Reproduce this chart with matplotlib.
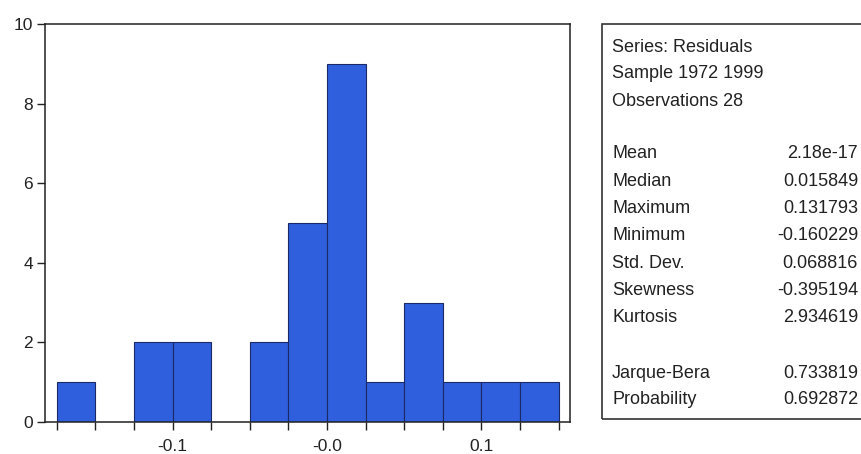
import matplotlib
matplotlib.use("Agg")
import matplotlib.pyplot as plt
from matplotlib.patches import Rectangle

plt.rcParams['font.family'] = ['Liberation Sans', 'DejaVu Sans']

# histogram of residuals, bin width 0.025
bin_left = [-0.175, -0.15, -0.125, -0.1, -0.075, -0.05, -0.025, 0.0, 0.025, 0.05, 0.075, 0.1, 0.125]
counts = [1, 0, 2, 2, 0, 2, 5, 9, 1, 3, 1, 1, 1]
bin_width = 0.025

tick_pos = [-0.175, -0.15, -0.125, -0.1, -0.075, -0.05, -0.025, 0.0, 0.025, 0.05, 0.075, 0.1, 0.125, 0.15]
tick_lab = ['', '', '', '-0.1', '', '', '', '-0.0', '', '', '', '0.1', '', '']
y_ticks = [0, 2, 4, 6, 8, 10]

head_lines = ['Series: Residuals', 'Sample 1972 1999', 'Observations 28']
stat_names = ['Mean', 'Median', 'Maximum', 'Minimum', 'Std. Dev.', 'Skewness', 'Kurtosis']
stat_vals = ['2.18e-17', '0.015849', '0.131793', '-0.160229', '0.068816', '-0.395194', '2.934619']
test_names = ['Jarque-Bera', 'Probability']
test_vals = ['0.733819', '0.692872']

W, H = 861, 454
fig = plt.figure(figsize=(W / 100, H / 100), dpi=100)
ax = fig.add_axes([45 / W, 1 - 422 / H, 525 / W, 398 / H])

ax.bar(bin_left, counts, width=bin_width, align='edge',
       color='#2f5fdc', edgecolor='#1b2a66', linewidth=0.8)

ax.set_xlim(-0.1826, 0.1573)
ax.set_ylim(0, 10)
ax.set_xticks(tick_pos)
ax.set_xticklabels(tick_lab)
ax.set_yticks(y_ticks)
ax.tick_params(axis='both', direction='out', length=5.5, width=1, labelsize=12.5, colors='#222222')
ax.tick_params(axis='x', pad=7)
ax.tick_params(axis='y', pad=3)
for s in ax.spines.values():
    s.set_linewidth(1.1)
    s.set_color('#222222')

# statistics box
fig.patches.append(Rectangle((602 / W, 1 - 419 / H), 270 / W, 395 / H,
                             transform=fig.transFigure, fill=False,
                             edgecolor='#333333', linewidth=1.2))

def put(x, y, s, ha='left'):
    fig.text(x / W, 1 - y / H, s, ha=ha, va='center', fontsize=13, color='#222222')

y = 47
for s in head_lines:
    put(612, y, s)
    y += 27
y = 154
for n, v in zip(stat_names, stat_vals):
    put(612, y, n)
    put(858, y, v, ha='right')
    y += 27.3
y = 373
for n, v in zip(test_names, test_vals):
    put(612, y, n)
    put(858, y, v, ha='right')
    y += 27

fig.savefig('out.png', dpi=100)
